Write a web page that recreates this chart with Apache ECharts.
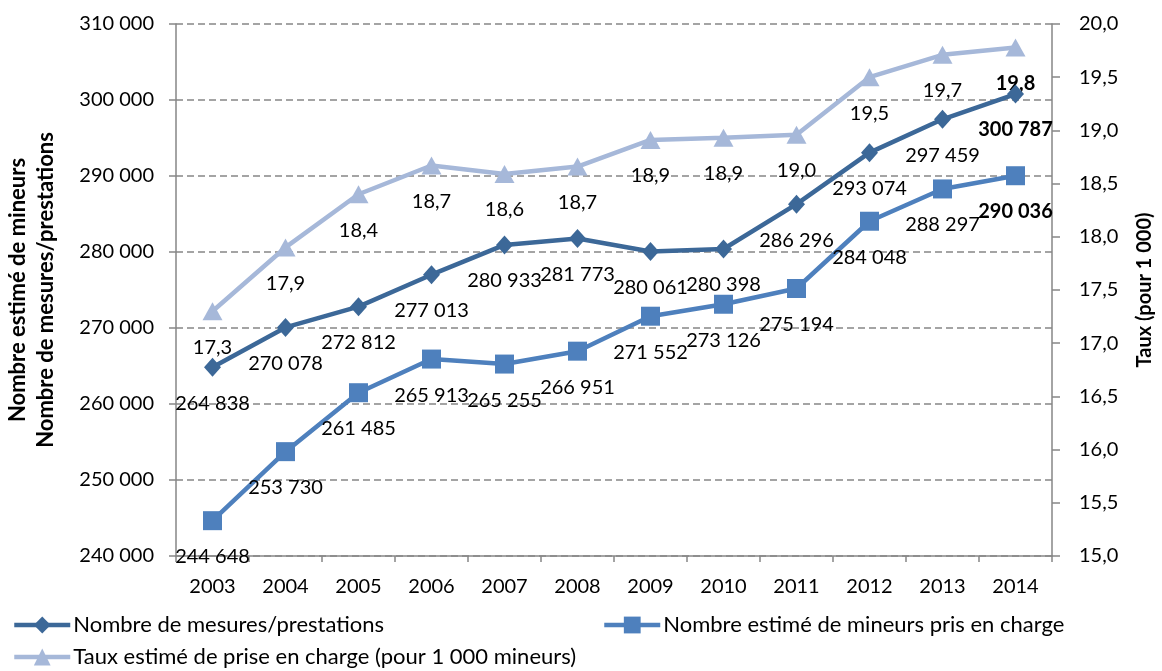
<!DOCTYPE html>
<html>
<head>
<meta charset="utf-8">
<script src="https://cdn.jsdelivr.net/npm/echarts@6/dist/echarts.min.js"></script>
<style>
html,body{margin:0;padding:0;background:#fff;}
#chart{width:1162px;height:671px;}
</style>
</head>
<body>
<div id="chart"></div>
<script>
const years = ['2003','2004','2005','2006','2007','2008','2009','2010','2011','2012','2013','2014'];
const mesures = [264838, 270078, 272812, 277013, 280933, 281773, 280061, 280398, 286296, 293074, 297459, 300787];
const mineurs = [244648, 253730, 261485, 265913, 265255, 266951, 271552, 273126, 275194, 284048, 288297, 290036];
const taux = [17.3, 17.9, 18.4, 18.67, 18.59, 18.66, 18.91, 18.93, 18.96, 19.5, 19.71, 19.78];

const nameMesures = 'Nombre de mesures/prestations';
const nameMineurs = 'Nombre estimé de mineurs pris en charge';
const nameTaux = 'Taux estimé de prise en charge (pour 1 000 mineurs)';

const FONT = 'Lato';
const fmtInt = v => String(Math.round(v)).replace(/\B(?=(\d{3})+(?!\d))/g, ' ');
const fmtDec = v => v.toFixed(1).replace('.', ',');

function withBoldLast(arr) {
  return arr.map((v, i) => i === arr.length - 1 ? {value: v, label: {fontWeight: 'bold'}} : v);
}
const labelBase = {
  show: true, position: 'inside', offset: [0, 36], color: '#000',
  fontFamily: FONT, fontSize: 20, textBorderWidth: 0
};

const chart = echarts.init(document.getElementById('chart'));
const legendCommon = {
  orient: 'horizontal', itemWidth: 56, itemHeight: 21, itemGap: 4,
  textStyle: {fontFamily: FONT, fontSize: 22, color: '#000', padding: [0, 0, 0, -2]},
  lineStyle: {width: 4.5},
  padding: 0
};
chart.setOption({
  animation: false,
  backgroundColor: '#fff',
  grid: {left: 176, right: 110, top: 24, bottom: 115, outerBoundsMode: 'none', containLabel: false},
  legend: [
    Object.assign({left: 12, top: 614, data: [nameMesures]}, legendCommon),
    Object.assign({left: 602, top: 614, data: [nameMineurs]}, legendCommon),
    Object.assign({left: 12, top: 646, data: [nameTaux]}, legendCommon)
  ],
  xAxis: {
    type: 'category', data: years, boundaryGap: true,
    axisLine: {lineStyle: {color: '#868686', width: 1.5}},
    axisTick: {show: true, length: 6, lineStyle: {color: '#868686', width: 1.5}},
    axisLabel: {color: '#000', fontFamily: FONT, fontSize: 20, margin: 21}
  },
  yAxis: [
    {
      type: 'value', min: 240000, max: 310000, interval: 10000, position: 'left',
      name: 'Nombre estimé de mineurs\nNombre de mesures/prestations',
      nameLocation: 'middle', nameRotate: 90, nameGap: 116,
      nameTextStyle: {fontFamily: FONT, fontSize: 22, fontWeight: 'bold', color: '#000', lineHeight: 28},
      axisLine: {show: true, lineStyle: {color: '#868686', width: 1.5}},
      axisTick: {show: true, length: 7, lineStyle: {color: '#868686', width: 1.5}},
      axisLabel: {color: '#000', fontFamily: FONT, fontSize: 20, margin: 22, formatter: fmtInt},
      splitLine: {show: true, lineStyle: {color: '#868686', width: 1.5, type: [7, 4]}}
    },
    {
      type: 'value', min: 15, max: 20, interval: 0.5, position: 'right',
      name: 'Taux (pour 1 000)',
      nameLocation: 'middle', nameRotate: 90, nameGap: 83,
      nameTextStyle: {fontFamily: FONT, fontSize: 20, fontWeight: 'bold', color: '#000'},
      axisLine: {show: true, lineStyle: {color: '#868686', width: 1.5}},
      axisTick: {show: true, length: 8, lineStyle: {color: '#868686', width: 1.5}},
      axisLabel: {color: '#000', fontFamily: FONT, fontSize: 20, margin: 27, formatter: fmtDec},
      splitLine: {show: false}
    }
  ],
  series: [
    {
      name: nameTaux, type: 'line', yAxisIndex: 1, data: withBoldLast(taux),
      symbol: 'triangle', symbolSize: [20, 18],
      lineStyle: {color: '#A6B8D9', width: 4.5},
      itemStyle: {color: '#A6B8D9'},
      label: Object.assign({}, labelBase, {formatter: p => fmtDec(p.value)}),
      z: 2
    },
    {
      name: nameMineurs, type: 'line', yAxisIndex: 0, data: withBoldLast(mineurs),
      symbol: 'rect', symbolSize: 19,
      lineStyle: {color: '#4E80BD', width: 4.5},
      itemStyle: {color: '#4E80BD'},
      label: Object.assign({}, labelBase, {formatter: p => fmtInt(p.value)}),
      z: 3
    },
    {
      name: nameMesures, type: 'line', yAxisIndex: 0, data: withBoldLast(mesures),
      symbol: 'diamond', symbolSize: [17, 19],
      lineStyle: {color: '#3C6898', width: 4.5},
      itemStyle: {color: '#3C6898'},
      label: Object.assign({}, labelBase, {formatter: p => fmtInt(p.value)}),
      z: 4
    }
  ]
});
</script>
</body>
</html>
